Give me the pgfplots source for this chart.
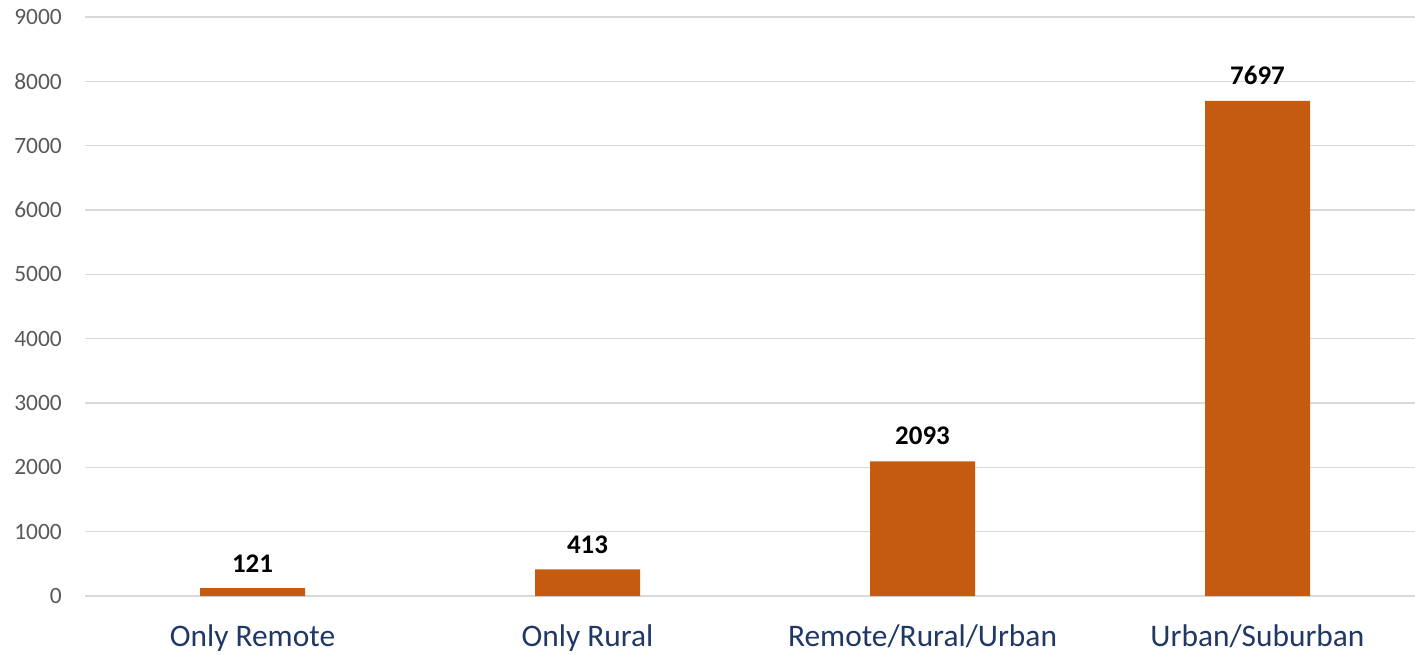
\documentclass[border=0pt]{standalone}
\usepackage{pgfplots}
\pgfplotsset{compat=1.18}
\usepackage{fontspec}
\setmainfont{Carlito}
\definecolor{barc}{HTML}{C55A11}
\definecolor{gridc}{HTML}{D9D9D9}
\definecolor{ytc}{HTML}{595959}
\definecolor{xtc}{HTML}{1F3864}
\begin{document}
\begin{tikzpicture}
\begin{axis}[
  scale only axis,
  width=1340bp, height=579bp,
  xmin=-0.5, xmax=3.5,
  ymin=0, ymax=9000,
  ytick distance=1000,
  xtick=data,
  xticklabels={Only Remote,Only Rural,Remote/Rural/Urban,Urban/Suburban},
  axis line style={draw=none},
  major tick length=0pt,
  ymajorgrids,
  grid style={gridc, line width=1.5bp},
  /pgf/number format/assume math mode=true,
  /pgf/number format/1000 sep={},
  yticklabel style={font=\fontsize{23.5}{26}\selectfont, text=ytc, inner sep=0pt, xshift=-23bp},
  xticklabel style={font=\fontsize{31.5}{34}\selectfont, text=xtc, inner sep=0pt, yshift=-28bp},
  ybar, bar width=105bp,
  nodes near coords,
  nodes near coords style={font=\fontsize{27}{30}\selectfont\bfseries, text=black, inner sep=0pt, anchor=south, yshift=16bp},
  clip=false,
]
\addplot[fill=barc, draw=none] coordinates {(0,121) (1,413) (2,2093) (3,7697)};
\coordinate (ll) at (rel axis cs:0,0);
\coordinate (ur) at (rel axis cs:1,1);
\end{axis}
\pgfresetboundingbox
\path ([shift={(-85bp,-58bp)}]ll) rectangle ([shift={(-10bp,17bp)}]ur);
\end{tikzpicture}
\end{document}
